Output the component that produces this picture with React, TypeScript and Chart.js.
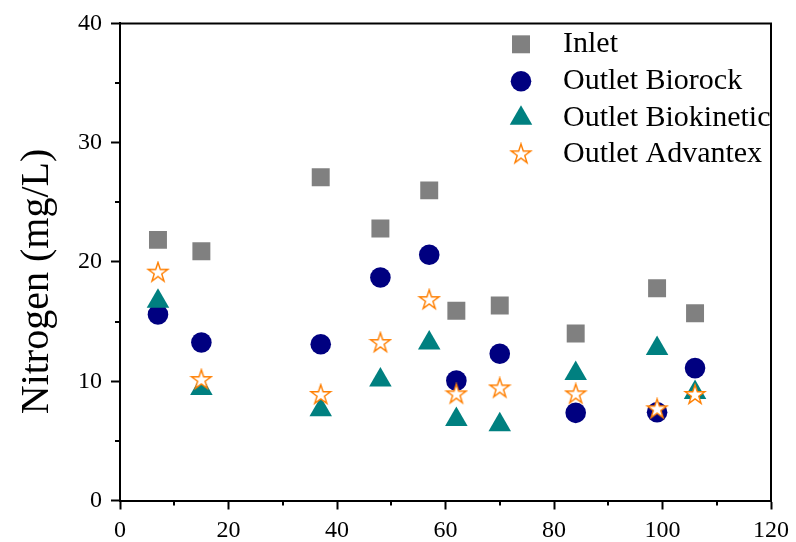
import React, { useEffect, useRef } from 'react';
import { Chart, registerables } from 'chart.js';
import { drawPoint } from 'chart.js/helpers';

Chart.register(...registerables);

// ---- data ----
const days = [7, 15, 37, 48, 57, 62, 70, 84, 99, 106];
const inlet = [21.85, 20.9, 27.1, 22.8, 26.0, 15.9, 16.35, 14.0, 17.8, 15.7];
const biorock = [15.6, 13.25, 13.1, 18.7, 20.6, 10.05, 12.3, 7.35, 7.4, 11.1];
const biokinetic = [16.7, 9.4, 7.6, 10.1, 13.2, 6.8, 6.35, 10.65, 12.75, 9.05];
const advantex = [19.1, 10.1, 8.85, 13.2, 16.8, 8.9, 9.4, 8.9, 7.65, 8.85];
const seriesNames = ['Inlet', 'Outlet Biorock', 'Outlet Biokinetic', 'Outlet Advantex'];
const yTitle = 'Nitrogen (mg/L)';
const xMinorTicks = [10, 30, 50, 70, 90, 110];
const yMinorTicks = [5, 15, 25, 35];

const FONT = '"Liberation Serif", "Times New Roman", Times, serif';

function makeStar(): HTMLCanvasElement {
  const size = 24;
  const c = document.createElement('canvas');
  c.width = size;
  c.height = size;
  const ctx = c.getContext('2d')!;
  const cx = size / 2;
  const cy = size / 2;
  const R = 10.3;
  const r = R * 0.382;
  ctx.beginPath();
  for (let i = 0; i < 10; i++) {
    const a = -Math.PI / 2 + (i * Math.PI) / 5;
    const rad = i % 2 === 0 ? R : r;
    const px = cx + Math.cos(a) * rad;
    const py = cy + Math.sin(a) * rad;
    if (i === 0) ctx.moveTo(px, py);
    else ctx.lineTo(px, py);
  }
  ctx.closePath();
  ctx.fillStyle = '#ffffff';
  ctx.fill();
  ctx.lineWidth = 1.4;
  ctx.lineJoin = 'miter';
  ctx.strokeStyle = '#FF7F00';
  ctx.stroke();
  return c;
}

const toPoints = (ys: number[]) => days.map((x, i) => ({ x, y: ys[i] }));

export default function App() {
  const ref = useRef<HTMLCanvasElement | null>(null);

  useEffect(() => {
    if (!ref.current) return;
    const star = makeStar();

    const framePlugin = {
      id: 'frameAndMinor',
      afterDraw(chart: any) {
        const { ctx, chartArea } = chart;
        const xs = chart.scales.x;
        const ys = chart.scales.y;
        ctx.save();
        ctx.strokeStyle = '#000';
        ctx.lineWidth = 2;
        // top & right frame
        ctx.beginPath();
        ctx.moveTo(chartArea.left, chartArea.top);
        ctx.lineTo(chartArea.right, chartArea.top);
        ctx.lineTo(chartArea.right, chartArea.bottom);
        ctx.stroke();
        // minor ticks
        ctx.beginPath();
        xMinorTicks.forEach((v) => {
          const px = Math.round(xs.getPixelForValue(v));
          ctx.moveTo(px, chartArea.bottom);
          ctx.lineTo(px, chartArea.bottom + 5);
        });
        yMinorTicks.forEach((v) => {
          const py = Math.round(ys.getPixelForValue(v));
          ctx.moveTo(chartArea.left - 5, py);
          ctx.lineTo(chartArea.left, py);
        });
        ctx.stroke();
        // y title
        ctx.fillStyle = '#000';
        ctx.font = `40px ${FONT}`;
        ctx.textAlign = 'center';
        ctx.textBaseline = 'alphabetic';
        ctx.translate(48, 281.5);
        ctx.rotate(-Math.PI / 2);
        ctx.fillText(yTitle, 0, 0);
        ctx.restore();
      },
    };

    const legendPlugin = {
      id: 'insideLegend',
      afterDraw(chart: any) {
        const { ctx } = chart;
        const rowY = [44.3, 81.3, 118.3, 154.3];
        ctx.save();
        chart.data.datasets.forEach((ds: any, i: number) => {
          const y = rowY[i];
          ctx.fillStyle = ds.backgroundColor;
          ctx.strokeStyle = ds.borderColor || ds.backgroundColor;
          drawPoint(ctx, { pointStyle: ds.pointStyle, radius: ds.pointRadius, rotation: 0, borderWidth: 0 } as any, 521, y);
          ctx.fillStyle = '#000';
          ctx.font = `30px ${FONT}`;
          ctx.textAlign = 'left';
          ctx.textBaseline = 'middle';
          ctx.fillText(ds.label, 563, y);
        });
        ctx.restore();
      },
    };

    const chart = new Chart(ref.current, {
      type: 'scatter',
      data: {
        datasets: [
          {
            label: seriesNames[0],
            data: toPoints(inlet),
            pointStyle: 'rect',
            pointRadius: 12.7,
            backgroundColor: '#808080',
            borderWidth: 0,
            order: 3,
          },
          {
            label: seriesNames[1],
            data: toPoints(biorock),
            pointStyle: 'circle',
            pointRadius: 10.3,
            backgroundColor: '#000080',
            borderWidth: 0,
            order: 2,
          },
          {
            label: seriesNames[2],
            data: toPoints(biokinetic),
            pointStyle: 'triangle',
            pointRadius: 13,
            backgroundColor: '#008080',
            borderWidth: 0,
            order: 1,
          },
          {
            label: seriesNames[3],
            data: toPoints(advantex),
            pointStyle: star as any,
            pointRadius: 10,
            backgroundColor: '#FF7F00',
            borderWidth: 0,
            order: 0,
          },
        ] as any,
      },
      options: {
        animation: false,
        responsive: false,
        events: [],
        layout: { padding: { top: 21, right: 23, left: 0, bottom: 0 } },
        plugins: {
          legend: { display: false },
          tooltip: { enabled: false },
        },
        scales: {
          x: {
            type: 'linear',
            min: 0,
            max: 120,
            ticks: {
              stepSize: 20,
              color: '#000',
              font: { family: FONT, size: 24 },
              padding: 7,
              maxRotation: 0,
              autoSkip: false,
            },
            grid: {
              drawOnChartArea: false,
              drawTicks: true,
              tickLength: 9,
              tickWidth: 2,
              tickColor: '#000',
            },
            border: { display: true, color: '#000', width: 2 },
            afterFit: (s: any) => {
              s.height = 41.5;
            },
          },
          y: {
            type: 'linear',
            min: 0,
            max: 40,
            ticks: {
              stepSize: 10,
              color: '#000',
              font: { family: FONT, size: 24 },
              padding: 9,
            },
            grid: {
              drawOnChartArea: false,
              drawTicks: true,
              tickLength: 9,
              tickWidth: 2,
              tickColor: '#000',
            },
            border: { display: true, color: '#000', width: 2 },
            afterFit: (s: any) => {
              s.width = 120;
            },
          },
        },
      },
      plugins: [framePlugin, legendPlugin],
    });

    return () => chart.destroy();
  }, []);

  return (
    <div style={{ position: 'fixed', left: 0, top: 0, width: 796, height: 542, background: '#fff' }}>
      <canvas ref={ref} width={796} height={542} style={{ display: 'block' }} />
    </div>
  );
}
